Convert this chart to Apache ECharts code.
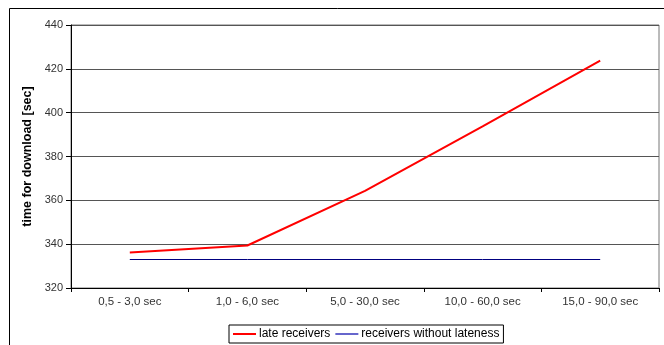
<!DOCTYPE html>
<html>
<head>
<meta charset="utf-8">
<script src="https://cdn.jsdelivr.net/npm/echarts@6/dist/echarts.min.js"></script>
<style>html,body{margin:0;padding:0;background:#fff}#c{width:664px;height:345px}</style>
</head>
<body>
<div id="c"></div>
<script>
const categories = ['0,5 - 3,0 sec', '1,0 - 6,0 sec', '5,0 - 30,0 sec', '10,0 - 60,0 sec', '15,0 - 90,0 sec'];
const lateReceivers = [336.2, 339.4, 364.3, 393.8, 423.7];
const withoutLateness = [333, 333, 333, 333, 333];
const yTicks = [320, 340, 360, 380, 400, 420, 440];

const chart = echarts.init(document.getElementById('c'), null, {renderer: 'canvas'});
const font = 'Liberation Sans, Arial, sans-serif';
chart.setOption({
  animation: false,
  backgroundColor: '#fff',
  graphic: [{
    type: 'rect', left: 7, top: 6, shape: {width: 670, height: 338},
    style: {fill: 'none', stroke: '#000', lineWidth: 1}, silent: true
  }],
  grid: {left: 71, right: 5, top: 25, bottom: 57, show: true, borderColor: '#777', borderWidth: 1, backgroundColor: '#fff'},
  xAxis: {
    type: 'category', data: categories, boundaryGap: true,
    axisLine: {lineStyle: {color: '#000', width: 1}},
    axisTick: {show: true, length: 4, inside: false, lineStyle: {color: '#000'}},
    axisLabel: {color: '#333', fontFamily: font, fontSize: 11.5, margin: 8}
  },
  yAxis: {
    type: 'value', min: yTicks[0], max: yTicks[yTicks.length - 1], interval: 20,
    name: 'time for download [sec]', nameLocation: 'middle', nameGap: 35, nameRotate: 90,
    nameTextStyle: {fontFamily: font, fontSize: 12.5, fontWeight: 'bold', color: '#000'},
    axisLine: {show: true, lineStyle: {color: '#000'}},
    axisTick: {show: true, length: 5, lineStyle: {color: '#000'}},
    axisLabel: {color: '#333', fontFamily: font, fontSize: 11, margin: 8},
    splitLine: {show: true, lineStyle: {color: '#555', width: 1}}
  },
  legend: {
    bottom: 2, left: 229,
    itemWidth: 23, itemHeight: 2, itemGap: 5,
    padding: [3, 4, 3, 4],
    borderColor: '#000', borderWidth: 1, borderRadius: 0,
    textStyle: {fontFamily: font, fontSize: 12, color: '#000', padding: [0, 0, 0, -2]},
    data: [
      {name: 'late receivers', icon: 'rect', itemStyle: {color: '#ff0000'}},
      {name: 'receivers without lateness', icon: 'rect', itemStyle: {color: '#6666cc'}}
    ]
  },
  series: [
    {name: 'late receivers', type: 'line', data: lateReceivers, symbol: 'none',
     lineStyle: {color: '#ff0000', width: 2}, itemStyle: {color: '#ff0000'}},
    {name: 'receivers without lateness', type: 'line', data: withoutLateness, symbol: 'none',
     lineStyle: {color: '#000080', width: 1}, itemStyle: {color: '#000080'}}
  ]
});
</script>
</body>
</html>
